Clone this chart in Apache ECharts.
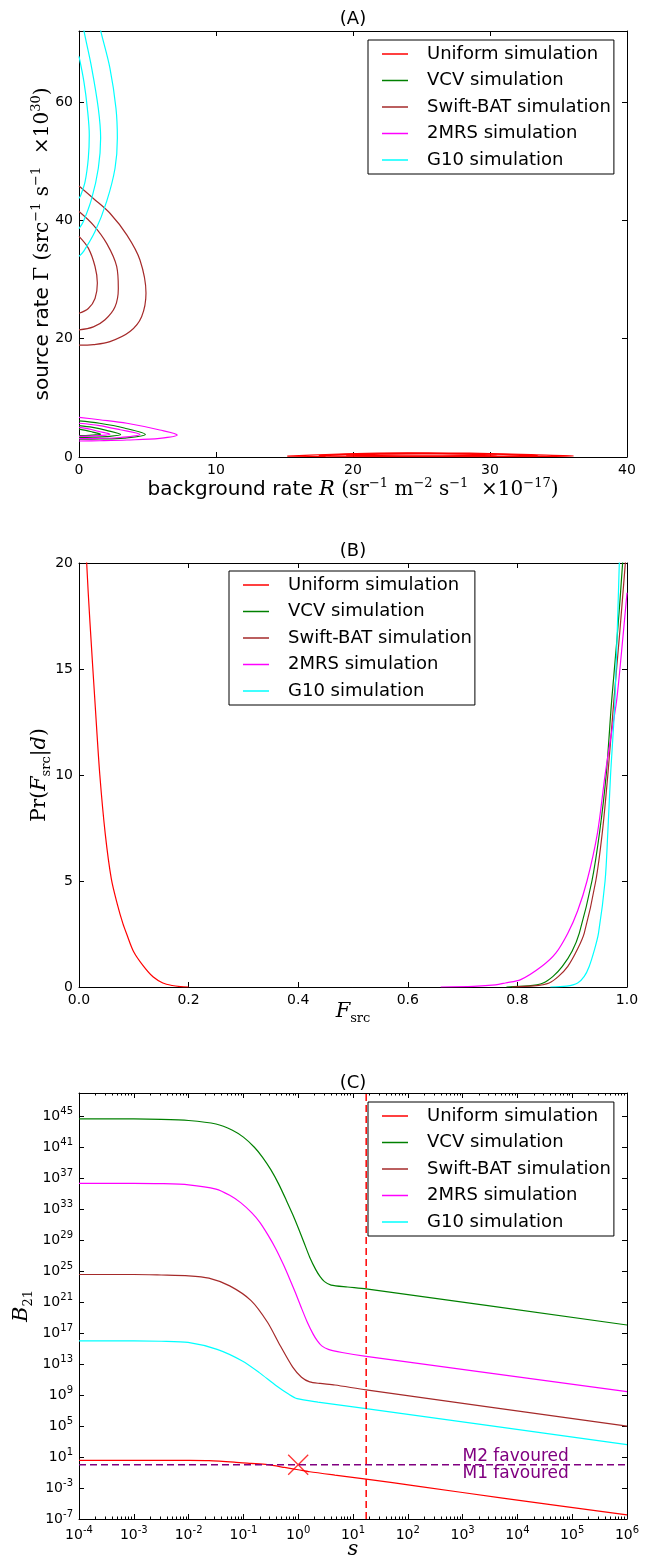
<!DOCTYPE html>
<html>
<head>
<meta charset="utf-8">
<script src="https://cdn.jsdelivr.net/npm/echarts@6/dist/echarts.min.js"></script>
<style>
  html, body { margin: 0; padding: 0; background: #fff; }
  #wrap { position: relative; width: 654px; height: 1555px; }
  .panel { position: absolute; left: 0; width: 654px; }
</style>
</head>
<body>
<div id="wrap">
  <div id="chartA" class="panel" style="top:0;height:520px"></div>
  <div id="chartB" class="panel" style="top:520px;height:520px"></div>
  <div id="chartC" class="panel" style="top:1040px;height:515px"></div>
</div>
<script>
// ---- shared ----
const names = ['Uniform simulation', 'VCV simulation', 'Swift-BAT simulation', '2MRS simulation', 'G10 simulation'];
const colors = ['#ff0000', '#008000', '#a52a2a', '#ff00ff', '#00ffff'];

// ---- (A) contour levels, [R, Gamma] ----
const uniformContours = [
  [[15.2, 0.15], [18, 0.42], [21, 0.62], [24, 0.7], [27, 0.68], [30, 0.58], [33, 0.4], [36.1, 0.18], [33, 0.08], [30, 0.05], [24, 0.04], [18, 0.07], [15.2, 0.15]],
  [[17.5, 0.25], [20, 0.48], [24, 0.6], [28, 0.56], [31, 0.44], [33.5, 0.25], [30, 0.14], [24, 0.11], [20, 0.14], [17.5, 0.25]],
  [[19.5, 0.32], [22, 0.48], [25, 0.53], [28, 0.48], [30.5, 0.33], [28, 0.22], [25, 0.2], [22, 0.22], [19.5, 0.32]]
];
const vcvContours = [
  [[0, 6.1], [1.5, 5.7], [3.3, 4.9], [4.84, 3.8], [3.3, 3.2], [1.5, 3.05], [0, 3.0]],
  [[0, 5.3], [1.0, 5.0], [2.0, 4.5], [3.04, 3.8], [2.0, 3.45], [1.0, 3.35], [0, 3.3]],
  [[0, 4.7], [0.5, 4.5], [1.0, 4.2], [1.58, 3.85], [1.0, 3.7], [0.5, 3.62], [0, 3.6]]
];
const swiftContours = [
  [[0, 45.8], [1.05, 43.7], [2.26, 41.2], [3.5, 37.5], [4.45, 33.3], [4.89, 27.7], [4.57, 23.7], [3.72, 21.2], [2.26, 19.5], [1.05, 19.0], [0, 18.9]],
  [[0, 41.5], [1.05, 39.2], [2.02, 36.1], [2.75, 32.2], [2.87, 28.5], [2.63, 25.4], [1.9, 23.2], [1.05, 22.0], [0, 21.5]],
  [[0, 37.3], [0.68, 35.3], [1.17, 32.2], [1.34, 29.4], [1.17, 26.8], [0.68, 25.1], [0, 24.3]]
];
const twoMrsContours = [
  [[0, 6.7], [1.5, 6.3], [3.5, 5.7], [5.9, 4.56], [7.17, 3.7], [5.9, 3.15], [3.5, 2.87], [1.5, 2.75], [0, 2.7]],
  [[0, 5.7], [1.5, 5.3], [3.0, 4.6], [4.45, 3.8], [3.0, 3.3], [1.5, 3.15], [0, 3.1]],
  [[0, 5.0], [0.7, 4.75], [1.4, 4.35], [2.26, 3.85], [1.4, 3.6], [0.7, 3.52], [0, 3.5]]
];
const g10Contours = [
  [[1.2, 76], [1.58, 72.05], [2.26, 65.7], [2.7, 58.9], [2.8, 53.9], [2.63, 48.8], [2.02, 43.2], [1.17, 38.1], [0.32, 34.7], [0, 33.9]],
  [[0.15, 75], [0.36, 72.05], [0.93, 65.7], [1.41, 58.9], [1.58, 53.9], [1.41, 48.8], [0.93, 43.7], [0.32, 39.8], [0, 38.6]],
  [[0, 67.7], [0.36, 63.4], [0.61, 58.9], [0.75, 54.4], [0.68, 50.5], [0.44, 46.5], [0.12, 44.2], [0, 43.7]]
];
const xTicksA = [0, 10, 20, 30, 40];
const yTicksA = [0, 20, 40, 60];

// ---- (B) Pr(F_src | d) ----
const fUniform = [0.008, 0.014, 0.020, 0.030, 0.038, 0.048, 0.059, 0.070, 0.080, 0.087, 0.100, 0.118, 0.135, 0.153, 0.170, 0.185, 0.200];
const pUniform = [24, 20, 17.2, 13.1, 10.0, 7.2, 5.1, 3.9, 3.0, 2.5, 1.65, 0.97, 0.48, 0.19, 0.07, 0.02, 0.0];
const fVcv = [0.78, 0.82, 0.847, 0.865, 0.882, 0.900, 0.913, 0.936, 0.950, 0.962, 0.972, 0.982, 0.992, 0.998];
const pVcv = [0, 0.05, 0.19, 0.5, 0.97, 1.7, 2.54, 5.0, 7.3, 10.0, 13.5, 16.5, 20, 23];
const fSwift = [0.79, 0.83, 0.858, 0.875, 0.892, 0.910, 0.922, 0.943, 0.955, 0.965, 0.976, 0.987, 0.997, 1.0];
const pSwift = [0, 0.05, 0.19, 0.5, 0.97, 1.8, 2.54, 5.0, 7.3, 10.0, 13.5, 16.8, 20, 21];
const f2mrs = [0.66, 0.72, 0.76, 0.778, 0.806, 0.844, 0.870, 0.892, 0.910, 0.927, 0.946, 0.960, 0.970, 0.981, 0.990, 1.0];
const p2mrs = [0, 0.03, 0.1, 0.19, 0.35, 0.97, 1.6, 2.54, 3.6, 5.0, 7.25, 10.0, 11.7, 13.5, 15.8, 18.6];
const fG10 = [0.86, 0.89, 0.91, 0.922, 0.931, 0.940, 0.948, 0.960, 0.965, 0.970, 0.978, 0.986, 0.992];
const pG10 = [0, 0.04, 0.19, 0.5, 0.97, 1.7, 2.54, 5.0, 7.3, 10.0, 13.5, 20, 24];
const xTicksB = [0, 0.2, 0.4, 0.6, 0.8, 1.0];
const yTicksB = [0, 5, 10, 15, 20];

// ---- (C) B21 vs s, pairs of [log10 s, log10 B21] ----
const logUniformC = [[-4, 0.57], [-3, 0.57], [-2, 0.56], [-1.63, 0.53], [-1.17, 0.35], [-0.86, 0.18], [-0.56, 0.01], [-0.25, -0.34], [0, -0.64], [0.21, -0.9], [0.67, -1.33], [1.24, -1.84], [2.2, -2.79], [3.73, -4.3], [6, -6.46]];
const logVcvC = [[-4, 44.65], [-3, 44.65], [-2.5, 44.6], [-2, 44.45], [-1.5, 44.0], [-1.2, 43.2], [-1.0, 42.3], [-0.8, 41.0], [-0.65, 39.7], [-0.5, 38.1], [-0.36, 36.3], [-0.22, 34.2], [-0.1, 32.3], [0.0, 30.6], [0.1, 28.8], [0.21, 26.8], [0.32, 25.2], [0.4, 24.3], [0.48, 23.65], [0.6, 23.2], [0.9, 22.95], [1.24, 22.7], [6, 18.05]];
const logSwiftC = [[-4, 24.57], [-3, 24.57], [-2.5, 24.5], [-2, 24.4], [-1.63, 24.1], [-1.25, 23.1], [-0.86, 21.2], [-0.56, 18.4], [-0.33, 15.4], [-0.1, 12.6], [0.06, 11.3], [0.21, 10.7], [0.4, 10.5], [0.67, 10.3], [1.24, 9.67], [6, 5.0]];
const log2mrsC = [[-4, 36.34], [-3, 36.34], [-2.5, 36.3], [-2.0, 36.15], [-1.5, 35.6], [-1.25, 34.8], [-1.05, 33.85], [-0.85, 32.55], [-0.7, 31.3], [-0.55, 29.65], [-0.41, 27.9], [-0.27, 25.85], [-0.15, 23.9], [-0.05, 22.2], [0.05, 20.4], [0.16, 18.5], [0.27, 16.9], [0.35, 16.0], [0.43, 15.35], [0.55, 14.9], [0.8, 14.5], [1.24, 14.0], [6, 9.45]];
const logG10C = [[-4, 16.0], [-3, 16.0], [-2.5, 15.95], [-2.01, 15.8], [-1.48, 14.9], [-1.02, 13.4], [-0.71, 11.9], [-0.4, 10.2], [-0.17, 9.1], [-0.02, 8.54], [0.36, 8.1], [1.24, 7.25], [6, 2.6]];
const sThreshold = 17.4;      // vertical dashed line
const bEqual = 1;             // M1 / M2 boundary
const crossPoint = [1, 1];
const annotations = [['M2 favoured', 9300, 12.3], ['M1 favoured', 9300, 0.069]];
const xTickExpC = [-4, -3, -2, -1, 0, 1, 2, 3, 4, 5, 6];
const yTickExpC = [-7, -3, 1, 5, 9, 13, 17, 21, 25, 29, 33, 37, 41, 45];

// ---- styling helpers ----
const FONT = '"DejaVu Sans", sans-serif';
const SERIF = '"DejaVu Serif", serif';
const BLACK = '#000';

const nameRich = {
  t: { fontFamily: FONT, fontSize: 20, lineHeight: 26, color: BLACK },
  m: { fontFamily: SERIF, fontSize: 20, lineHeight: 26, color: BLACK },
  i: { fontFamily: SERIF, fontStyle: 'italic', fontSize: 21, lineHeight: 26, color: BLACK },
  s: { fontFamily: SERIF, fontSize: 13, lineHeight: 15, verticalAlign: 'top', color: BLACK },
  sub: { fontFamily: SERIF, fontSize: 13, lineHeight: 13, verticalAlign: 'bottom', color: BLACK }
};
const tickRich = {
  b: { fontFamily: FONT, fontSize: 14, lineHeight: 20, color: BLACK },
  e: { fontFamily: FONT, fontSize: 10, lineHeight: 11, verticalAlign: 'top', color: BLACK }
};

function axis(type, pos, min, max, ticks, labels, fmt, extra) {
  return Object.assign({
    type: type, position: pos, min: min, max: max,
    nameMoveOverlap: false,
    axisLine: { show: true, onZero: false, lineStyle: { color: BLACK, width: 1 } },
    axisTick: { show: true, inside: true, length: 5, customValues: ticks, lineStyle: { color: BLACK, width: 1 } },
    axisLabel: { show: labels, customValues: ticks, color: BLACK, fontFamily: FONT, fontSize: 14, margin: 6, formatter: fmt, rich: tickRich },
    splitLine: { show: false },
    minorTick: { show: false }
  }, extra || {});
}

function legend(left, top) {
  return {
    data: names, orient: 'vertical', left: left, top: top,
    icon: 'rect', itemWidth: 26, itemHeight: 1.5, itemGap: 8.5,
    borderColor: BLACK, borderWidth: 1, borderRadius: 0,
    padding: [5, 3, 5, 14], backgroundColor: '#fff',
    selectedMode: false,
    textStyle: { fontFamily: FONT, fontSize: 18, lineHeight: 18, color: BLACK, padding: [0, 0, 0, 14] }
  };
}

function title(text, y) {
  return { type: 'text', x: 353, y: y, silent: true,
    style: { text: text, fill: BLACK, font: '18px ' + FONT, align: 'center', verticalAlign: 'middle' } };
}

function line(name, color, data, smooth, extra) {
  return Object.assign({
    type: 'line', name: name, data: data, smooth: smooth,
    symbol: 'none', showSymbol: false, silent: true,
    lineStyle: { color: color, width: 1.2 }, itemStyle: { color: color },
    emphasis: { disabled: true }
  }, extra || {});
}

const zip = (xs, ys) => xs.map((x, i) => [x, ys[i]]);
const pow10 = pairs => pairs.map(p => [Math.pow(10, p[0]), Math.pow(10, p[1])]);
const grid = (top, height) => ({ left: 79, top: top, width: 548, height: height, containLabel: false, outerBoundsMode: 'none' });

// ---- (A) ----
const chartA = echarts.init(document.getElementById('chartA'), null, { renderer: 'canvas' });
const seriesA = [];
[uniformContours, vcvContours, swiftContours, twoMrsContours, g10Contours].forEach((set, k) => {
  set.forEach(level => seriesA.push(line(names[k], colors[k], level, 0.35)));
});
chartA.setOption({
  animation: false,
  graphic: [title('(A)', 19)],
  grid: grid(31, 426),
  legend: legend(368, 40),
  xAxis: [
    axis('value', 'bottom', 0, 40, xTicksA, true, v => String(v), {
      name: '{t|background rate }{i|R}{m| (sr}{s|−1}{m| m}{s|−2}{m| s}{s|−1}{m|  ×10}{s|−17}{m|)}',
      nameLocation: 'middle', nameGap: 20, nameTextStyle: { rich: nameRich }
    }),
    axis('value', 'top', 0, 40, xTicksA, false)
  ],
  yAxis: [
    axis('value', 'left', 0, 72, yTicksA, true, v => String(v), {
      name: '{t|source rate }{m|Γ (src}{s|−1}{m| s}{s|−1}{m|  ×10}{s|30}{m|)}',
      nameLocation: 'middle', nameRotate: 90, nameGap: 23, nameTextStyle: { rich: nameRich }
    }),
    axis('value', 'right', 0, 72, yTicksA, false)
  ],
  series: seriesA
});

// ---- (B) ----
const chartB = echarts.init(document.getElementById('chartB'), null, { renderer: 'canvas' });
chartB.setOption({
  animation: false,
  graphic: [title('(B)', 31)],
  grid: grid(43, 424),
  legend: legend(229, 51),
  xAxis: [
    axis('value', 'bottom', 0, 1, xTicksB, true, v => v.toFixed(1), {
      name: '{i|F}{sub|src}', nameLocation: 'middle', nameGap: 12, nameTextStyle: { rich: nameRich }
    }),
    axis('value', 'top', 0, 1, xTicksB, false)
  ],
  yAxis: [
    axis('value', 'left', 0, 20, yTicksB, true, v => String(v), {
      name: '{m|Pr(}{i|F}{sub|src}{m||}{i|d}{m|)}', nameLocation: 'middle', nameRotate: 90, nameGap: 26,
      nameTextStyle: { rich: nameRich }
    }),
    axis('value', 'right', 0, 20, yTicksB, false)
  ],
  series: [
    line(names[0], colors[0], zip(fUniform, pUniform), 0.3),
    line(names[1], colors[1], zip(fVcv, pVcv), 0.3),
    line(names[2], colors[2], zip(fSwift, pSwift), 0.3),
    line(names[3], colors[3], zip(f2mrs, p2mrs), 0.3),
    line(names[4], colors[4], zip(fG10, pG10), 0.3)
  ]
});

// ---- (C) ----
const chartC = echarts.init(document.getElementById('chartC'), null, { renderer: 'canvas' });
const xTicksC = xTickExpC.map(e => Math.pow(10, e));
const yTicksC = yTickExpC.map(e => Math.pow(10, e));
const xMinorC = [];
xTickExpC.slice(0, -1).forEach(e => { for (let m = 2; m <= 9; m++) xMinorC.push(m * Math.pow(10, e)); });
const powLabel = v => '{b|10}{e|' + Math.round(Math.log10(v)) + '}';
const minorAxis = pos => ({
  type: 'log', logBase: 10, position: pos, min: 1e-4, max: 1e6,
  axisLine: { show: false },
  axisTick: { show: true, inside: true, length: 2.5, customValues: xMinorC, lineStyle: { color: BLACK, width: 1 } },
  axisLabel: { show: false }, splitLine: { show: false }
});
chartC.setOption({
  animation: false,
  graphic: [title('(C)', 43)],
  grid: grid(53, 426),
  legend: legend(368, 62),
  xAxis: [
    axis('log', 'bottom', 1e-4, 1e6, xTicksC, true, powLabel, {
      logBase: 10, name: '{i|s}', nameLocation: 'middle', nameGap: 18, nameTextStyle: { rich: nameRich }
    }),
    axis('log', 'top', 1e-4, 1e6, xTicksC, false, null, { logBase: 10 }),
    minorAxis('bottom'),
    minorAxis('top')
  ],
  yAxis: [
    axis('log', 'left', 1e-7, 1e48, yTicksC, true, powLabel, {
      logBase: 10, name: '{i|B}{sub|21}', nameLocation: 'middle', nameRotate: 90, nameGap: 44,
      nameTextStyle: { rich: nameRich }
    }),
    axis('log', 'right', 1e-7, 1e48, yTicksC, false, null, { logBase: 10 })
  ],
  series: [
    line(names[0], colors[0], pow10(logUniformC), 0.25),
    line(names[1], colors[1], pow10(logVcvC), 0.25),
    line(names[2], colors[2], pow10(logSwiftC), 0.25),
    line(names[3], colors[3], pow10(log2mrsC), 0.25),
    line(names[4], colors[4], pow10(logG10C), 0.25),
    line('threshold', '#ff0000', [[sThreshold, 1e-7], [sThreshold, 1e48]], false,
      { lineStyle: { color: '#ff0000', width: 1.5, type: [7, 4] } }),
    line('equal', '#800080', [[1e-4, bEqual], [1e6, bEqual]], false,
      { lineStyle: { color: '#800080', width: 1.5, type: [7, 4] } }),
    {
      type: 'scatter', name: 'cross', data: [crossPoint], silent: true,
      symbol: 'path://M0,0L10,10M10,0L0,10', symbolSize: 20,
      itemStyle: { color: 'rgba(0,0,0,0)', borderColor: '#ff0000', borderWidth: 1.3 }
    },
    {
      type: 'custom', name: 'notes', silent: true,
      data: annotations.map(a => [a[1], a[2]]),
      renderItem: (params, api) => {
        const p = api.coord([api.value(0), api.value(1)]);
        return { type: 'text', x: p[0], y: p[1],
          style: { text: annotations[params.dataIndex][0], fill: '#800080', font: '17px ' + FONT, align: 'center', verticalAlign: 'middle' } };
      }
    }
  ]
});
</script>
</body>
</html>
